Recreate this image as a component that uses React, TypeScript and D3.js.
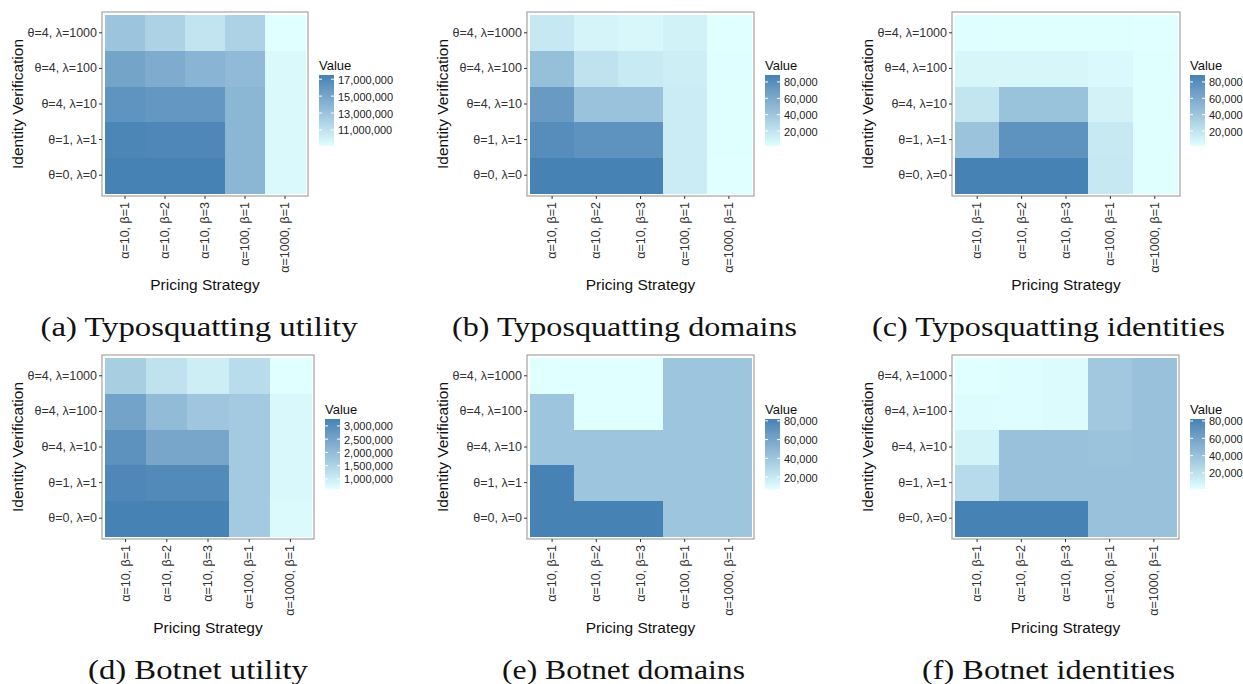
import React from "react";
import * as d3 from "d3";

// categories
const pricing = ["α=10, β=1", "α=10, β=2", "α=10, β=3", "α=100, β=1", "α=1000, β=1"];
// bottom to top, like the ggplot y axis
const verification = ["θ=0, λ=0", "θ=1, λ=1", "θ=4, λ=10", "θ=4, λ=100", "θ=4, λ=1000"];

// each row = one verification level, columns follow `pricing`
const typoUtility = [
  [17.5e6, 17.5e6, 17.5e6, 13.9e6, 9.45e6],
  [17.2e6, 17.1e6, 17.1e6, 13.9e6, 9.5e6],
  [16.2e6, 16.0e6, 16.0e6, 13.9e6, 9.5e6],
  [15.1e6, 14.6e6, 14.0e6, 13.6e6, 9.5e6],
  [12.9e6, 12.0e6, 10.8e6, 12.0e6, 9.1e6],
];
const typoDomains = [
  [88500, 88500, 88500, 14000, 1700],
  [80000, 76000, 76000, 14000, 2000],
  [71000, 42500, 42500, 14000, 2000],
  [45000, 21000, 15600, 13000, 2100],
  [17000, 8600, 7000, 10400, 1700],
];
const typoIdentities = [
  [88500, 88500, 88500, 17000, 2000],
  [42000, 76000, 76000, 16500, 2500],
  [19000, 43000, 43000, 10000, 2500],
  [7800, 7800, 7800, 5600, 2500],
  [2200, 2000, 2000, 2500, 1700],
];
const botUtility = [
  [3.26e6, 3.26e6, 3.26e6, 1.7e6, 0.72e6],
  [3.13e6, 3.08e6, 3.08e6, 1.7e6, 0.75e6],
  [2.9e6, 2.47e6, 2.47e6, 1.7e6, 0.75e6],
  [2.52e6, 2.02e6, 1.78e6, 1.7e6, 0.75e6],
  [1.62e6, 1.2e6, 0.96e6, 1.33e6, 0.62e6],
];
const botDomains = [
  [82000, 82000, 82000, 41000, 41000],
  [82000, 41000, 41000, 41000, 41000],
  [41000, 41000, 41000, 41000, 41000],
  [41000, 7200, 7200, 41000, 41000],
  [7200, 7200, 7200, 41000, 41000],
];
const botIdentities = [
  [82300, 82300, 82300, 40000, 40000],
  [24000, 40000, 40000, 40000, 40000],
  [9000, 40000, 40000, 39000, 40000],
  [3500, 3000, 4000, 35500, 40000],
  [1500, 2500, 4000, 35500, 40000],
];

// legend break values
const utilityTicksTypo = [11e6, 13e6, 15e6, 17e6];
const utilityTicksBot = [1e6, 1.5e6, 2e6, 2.5e6, 3e6];
const countTicks = [20000, 40000, 60000, 80000];

const LOW = "#E0FFFF";
const HIGH = "#4682B4";
const fmt = d3.format(",");
const SANS = "'Liberation Sans', Arial, Helvetica, sans-serif";

function Heatmap({ id, values, ticks, left, right, top, bottom, legendX, barTop, barBottom, caption, captionX, captionY, captionW }) {
  const x = d3.scaleBand().domain(pricing).range([left, right]);
  const y = d3.scaleBand().domain(verification).range([bottom, top]);
  const flat = values.flat();
  const ext = d3.extent(flat) as [number, number];
  const color = d3.scaleLinear<string>().domain(ext).range([LOW, HIGH]).interpolate(d3.interpolateLab);
  const barW = 15;
  const bar = d3.scaleLinear().domain(ext).range([barBottom, barTop]);
  const pad = 3;
  const bl = left - pad, bt = top - pad, br = right + pad, bb = bottom + pad;

  const cells = [];
  values.forEach((row, i) => {
    row.forEach((v, j) => {
      cells.push({ r: verification[i], c: pricing[j], v });
    });
  });

  const stops = d3.range(0, 1.0001, 0.1);

  return (
    <g>
      <defs>
        <linearGradient id={"grad" + id} x1="0" y1="1" x2="0" y2="0">
          {stops.map((t) => (
            <stop key={t} offset={t * 100 + "%"} stopColor={d3.interpolateLab(LOW, HIGH)(t)} />
          ))}
        </linearGradient>
      </defs>
      <rect x={bl} y={bt} width={br - bl} height={bb - bt} fill="white" />
      {cells.map((d, k) => (
        <rect key={k} x={x(d.c)} y={y(d.r)} width={x.bandwidth() + 0.5} height={y.bandwidth() + 0.5}
          fill={color(d.v)} shapeRendering="crispEdges" />
      ))}
      <rect x={bl} y={bt} width={br - bl} height={bb - bt} fill="none" stroke="#a3a3a3" strokeWidth={1.2} />

      {/* y axis */}
      {verification.map((v) => {
        const cy = y(v) + y.bandwidth() / 2;
        return (
          <g key={v}>
            <line x1={bl - 3} x2={bl} y1={cy} y2={cy} stroke="#333" strokeWidth={1} />
            <text x={bl - 5} y={cy} textAnchor="end" dominantBaseline="central" fontSize={12.5} fill="#333" fontFamily={SANS}>{v}</text>
          </g>
        );
      })}
      <text transform={`translate(${bl - 85},${(top + bottom) / 2}) rotate(-90)`} textAnchor="middle" dominantBaseline="central"
        fontSize={15.5} fill="#111" fontFamily={SANS}>Identity Verification</text>

      {/* x axis */}
      {pricing.map((p) => {
        const cx = x(p) + x.bandwidth() / 2;
        return (
          <g key={p}>
            <line x1={cx} x2={cx} y1={bb} y2={bb + 3} stroke="#333" strokeWidth={1} />
            <text transform={`translate(${cx},${bb + 6}) rotate(-90)`} textAnchor="end" dominantBaseline="central"
              fontSize={12.5} fill="#333" fontFamily={SANS}>{p}</text>
          </g>
        );
      })}
      <text x={(left + right) / 2} y={bb + 94} textAnchor="middle" fontSize={15.5} fill="#111" fontFamily={SANS}>Pricing Strategy</text>

      {/* legend */}
      <text x={legendX} y={barTop - 5} fontSize={13} fill="#111" fontFamily={SANS}>Value</text>
      <rect x={legendX} y={barTop} width={barW} height={barBottom - barTop} fill={`url(#grad${id})`} />
      {ticks.map((t) => (
        <g key={t}>
          <line x1={legendX} x2={legendX + 3} y1={bar(t)} y2={bar(t)} stroke="white" strokeWidth={1} />
          <line x1={legendX + barW - 3} x2={legendX + barW} y1={bar(t)} y2={bar(t)} stroke="white" strokeWidth={1} />
          <text x={legendX + barW + 4} y={bar(t) + 0.5} dominantBaseline="central" fontSize={11} fill="#222" fontFamily={SANS}>{fmt(t)}</text>
        </g>
      ))}

      {/* caption */}
      <text x={captionX} y={captionY} textAnchor="middle" fontSize={27} fill="#111"
        fontFamily="'Liberation Serif', 'Times New Roman', serif" textLength={captionW} lengthAdjust="spacingAndGlyphs">{caption}</text>
    </g>
  );
}

export default function App() {
  return (
    <svg width={1243} height={684} style={{ position: "absolute", left: 0, top: 0, background: "white" }}>
      <Heatmap id="a" values={typoUtility} ticks={utilityTicksTypo} left={105} right={305} top={15} bottom={193}
        legendX={319} barTop={75} barBottom={146} caption="(a) Typosquatting utility" captionX={199} captionY={336} captionW={317} />
      <Heatmap id="b" values={typoDomains} ticks={countTicks} left={530} right={751} top={15} bottom={193}
        legendX={765} barTop={75} barBottom={146} caption="(b) Typosquatting domains" captionX={624.5} captionY={336} captionW={345} />
      <Heatmap id="c" values={typoIdentities} ticks={countTicks} left={955} right={1177} top={15} bottom={193}
        legendX={1190} barTop={75} barBottom={146} caption="(c) Typosquatting identities" captionX={1048.5} captionY={336} captionW={353} />
      <Heatmap id="d" values={botUtility} ticks={utilityTicksBot} left={105} right={311} top={358} bottom={536}
        legendX={325} barTop={419} barBottom={489} caption="(d) Botnet utility" captionX={198} captionY={679} captionW={220} />
      <Heatmap id="e" values={botDomains} ticks={countTicks} left={530} right={751} top={358} bottom={536}
        legendX={765} barTop={419} barBottom={489} caption="(e) Botnet domains" captionX={623.5} captionY={679} captionW={243} />
      <Heatmap id="f" values={botIdentities} ticks={countTicks} left={955} right={1176} top={358} bottom={536}
        legendX={1190} barTop={419} barBottom={489} caption="(f) Botnet identities" captionX={1048.5} captionY={679} captionW={253} />
    </svg>
  );
}
